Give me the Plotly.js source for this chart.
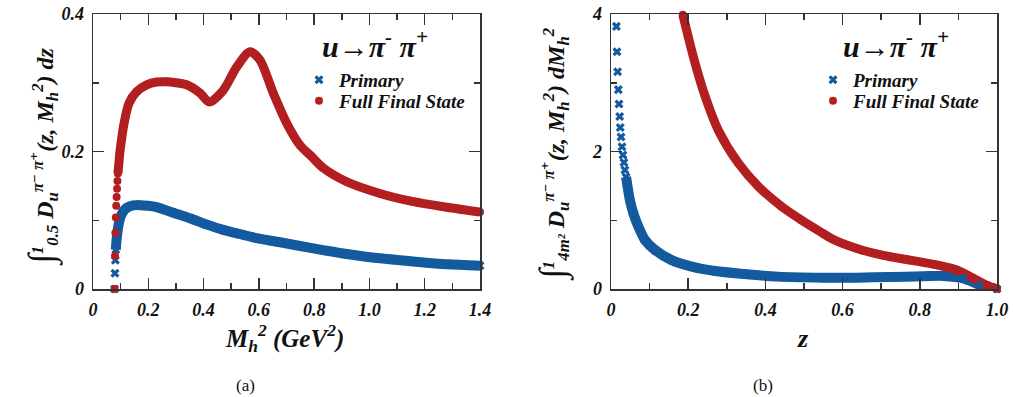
<!DOCTYPE html>
<html><head><meta charset="utf-8">
<script src="https://cdn.plot.ly/plotly-3.0.1.min.js"></script>
<style>html,body{margin:0;padding:0;background:#fff}#chart{width:1015px;height:397px}</style>
</head><body><div id="chart"></div>
<script>
// ---- Panel (a): integral over z in [0.5,1] vs M_h^2 ----
const mh2Full = [0.078, 0.0795, 0.081, 0.0825, 0.084, 0.0855, 0.087, 0.0885, 0.090, 0.093, 0.097, 0.103, 0.112, 0.130, 0.158, 0.194, 0.230, 0.267, 0.300, 0.339, 0.387, 0.421, 0.471, 0.520, 0.568, 0.604, 0.652, 0.701, 0.749, 0.790, 0.833, 0.918, 1.038, 1.159, 1.280, 1.400];
const fullA   = [0, 0.048, 0.082, 0.104, 0.121, 0.134, 0.146, 0.157, 0.168, 0.180, 0.198, 0.217, 0.240, 0.270, 0.287, 0.297, 0.301, 0.3015, 0.300, 0.297, 0.285, 0.272, 0.289, 0.323, 0.345, 0.333, 0.285, 0.241, 0.209, 0.193, 0.176, 0.156, 0.139, 0.127, 0.119, 0.112];
const mh2Prim = [0.078, 0.0795, 0.081, 0.0825, 0.084, 0.087, 0.092, 0.098, 0.108, 0.122, 0.145, 0.170, 0.200, 0.230, 0.290, 0.351, 0.410, 0.471, 0.530, 0.592, 0.677, 0.797, 0.918, 1.038, 1.159, 1.280, 1.400];
const primA   = [0, 0.023, 0.042, 0.057, 0.066, 0.078, 0.092, 0.103, 0.112, 0.118, 0.1215, 0.122, 0.121, 0.119, 0.111, 0.103, 0.094, 0.086, 0.080, 0.074, 0.068, 0.059, 0.051, 0.0446, 0.040, 0.036, 0.034];

// ---- Panel (b): integral over M_h^2 vs z ----
const zFull  = [0.186, 0.200, 0.218, 0.244, 0.278, 0.330, 0.382, 0.442, 0.494, 0.540, 0.576, 0.637, 0.705, 0.775, 0.844, 0.896, 0.939, 0.973, 1.000];
const fullB  = [3.99, 3.67, 3.28, 2.80, 2.31, 1.83, 1.49, 1.20, 1.00, 0.84, 0.72, 0.59, 0.49, 0.42, 0.35, 0.276, 0.155, 0.058, 0.0];
const zPrim  = [0.014, 0.0155, 0.017, 0.019, 0.0207, 0.0225, 0.024, 0.026, 0.0285, 0.031, 0.0335, 0.036, 0.039, 0.0415, 0.049, 0.058, 0.071, 0.088, 0.114, 0.157, 0.209, 0.269, 0.347, 0.433, 0.550, 0.637, 0.723, 0.809, 0.861, 0.913, 0.956, 1.000];
const primB  = [3.82, 3.45, 3.16, 2.90, 2.69, 2.51, 2.35, 2.21, 2.07, 1.95, 1.84, 1.73, 1.63, 1.54, 1.29, 1.10, 0.906, 0.713, 0.567, 0.42, 0.325, 0.262, 0.218, 0.18, 0.165, 0.165, 0.175, 0.185, 0.19, 0.155, 0.058, 0.0];

// ---- tick labels ----
const xTickA = [0, 0.2, 0.4, 0.6, 0.8, 1.0, 1.2, 1.4];
const xTickAText = ["0", "0.2", "0.4", "0.6", "0.8", "1.0", "1.2", "1.4"];
const xMinorA = [0.1, 0.3, 0.5, 0.7, 0.9, 1.1, 1.3];
const yTickA = [0, 0.2, 0.4];
const yTickAText = ["0", "0.2", "0.4"];
const yMinorA = [0.1, 0.3];
const xTickB = [0, 0.2, 0.4, 0.6, 0.8, 1.0];
const xTickBText = ["0", "0.2", "0.4", "0.6", "0.8", "1.0"];
const xMinorB = [0.1, 0.3, 0.5, 0.7, 0.9];
const yTickB = [0, 2, 4];
const yTickBText = ["0", "2", "4"];
const yMinorB = [1, 3];

const names = ["Primary", "Full Final State"];
const RED = "#b31e20", BLUE = "#135a9e";
const FONT = "Liberation Serif, DejaVu Serif, serif";

// where the markers merge into a continuous band
const bandFullA = 8, bandPrimA = 3, bandFullB = 0, bandPrimB = 12;

function band(x, y, start, color, w, xa, ya) {
  return {x: x.slice(start), y: y.slice(start), xaxis: xa, yaxis: ya, mode: "lines",
    line: {color: color, width: w, shape: "spline", smoothing: 0.8},
    showlegend: false, hoverinfo: "skip", cliponaxis: false};
}
function pts(x, y, name, color, sym, size, xa, ya, leg) {
  return {x: x, y: y, xaxis: xa, yaxis: ya, mode: "markers", name: name, legend: leg,
    marker: {color: color, symbol: sym, size: size, line: {width: 0}}, cliponaxis: false};
}

const traces = [
  band(mh2Prim, primA, bandPrimA, BLUE, 10, "x", "y"),
  band(mh2Full, fullA, bandFullA, RED, 9, "x", "y"),
  band(zPrim, primB, bandPrimB, BLUE, 10, "x2", "y2"),
  band(zFull, fullB, bandFullB, RED, 9, "x2", "y2"),
  pts(mh2Prim, primA, names[0], BLUE, "x", 8, "x", "y", "legend"),
  pts(mh2Full, fullA, names[1], RED, "circle", 8, "x", "y", "legend2"),
  pts(zPrim, primB, names[0], BLUE, "x", 8, "x2", "y2", "legend3"),
  pts(zFull, fullB, names[1], RED, "circle", 8, "x2", "y2", "legend4")
];

const tickFont = {family: FONT, size: 18, weight: "bold", style: "italic", color: "#111"};
function axis(dom, rng, tv, tt, mv, anchor) {
  return {domain: dom, range: rng, anchor: anchor, tickmode: "array", tickvals: tv, ticktext: tt,
    ticks: "inside", ticklen: 11, tickwidth: 1.5, tickcolor: "#333",
    minor: {tickmode: "array", tickvals: mv, ticks: "inside", ticklen: 6, tickwidth: 1.5, tickcolor: "#333"},
    showline: true, linecolor: "#333", linewidth: 1.5, mirror: "ticks",
    showgrid: false, zeroline: false, tickfont: tickFont, ticklabelstandoff: 4, fixedrange: true};
}
const W = 1015, T = 14, PH = 275;
const px = v => v / W;
const py = v => (T + PH - v) / PH;

const bi = {family: FONT, weight: "bold", style: "italic", color: "#111"};
function leg(x, y) {
  return {x: px(x), y: py(y), xanchor: "left", yanchor: "middle", bgcolor: "rgba(0,0,0,0)",
    borderwidth: 0, font: Object.assign({}, bi, {size: 19}), itemwidth: 30};
}
function ann(text, x, y, size, extra) {
  return Object.assign({text: text, xref: "paper", yref: "paper", x: px(x), y: py(y),
    xanchor: "center", yanchor: "middle", showarrow: false,
    font: Object.assign({}, bi, {size: size})}, extra || {});
}

const layout = {
  width: 1015, height: 397, margin: {l: 0, r: 0, t: T, b: 397 - T - PH},
  paper_bgcolor: "#fff", plot_bgcolor: "#fff", showlegend: true,
  font: {family: FONT},
  xaxis: axis([px(93), px(480)], [0, 1.4], xTickA, xTickAText, xMinorA, "y"),
  yaxis: axis([0, 1], [0, 0.4], yTickA, yTickAText, yMinorA, "x"),
  xaxis2: axis([px(611), px(997)], [0, 1.0], xTickB, xTickBText, xMinorB, "y2"),
  yaxis2: axis([0, 1], [0, 4], yTickB, yTickBText, yMinorB, "x2"),
  legend: leg(299, 80),
  legend2: leg(299, 101),
  legend3: leg(813, 80),
  legend4: leg(813, 101),
  annotations: [
    ann("u→π<sup>-</sup> π<sup>+</sup>", 375, 44, 30),
    ann("u→π<sup>-</sup> π<sup>+</sup>", 896, 44, 30),
    ann("M<sub>h</sub><sup>2</sup> (GeV<sup>2</sup>)", 284, 338, 25),
    ann("z", 803, 338, 26),
    ann("<span style='font-size:36px'>∫</span><sup>1</sup><sub>0.5</sub> D<sub>u</sub><sup>π⁻ π⁺</sup>(z, M<sub>h</sub><sup>2</sup>) dz", 42, 157, 24, {textangle: -90}),
    ann("<span style='font-size:36px'>∫</span><sup>1</sup><sub>4m²</sub> D<sub>u</sub><sup>π⁻ π⁺</sup>(z, M<sub>h</sub><sup>2</sup>) dM<sub>h</sub><sup>2</sup>", 553, 155, 24, {textangle: -90}),
    ann("(a)", 245, 385, 17, {font: {family: FONT, size: 17, color: "#111"}}),
    ann("(b)", 763, 385, 17, {font: {family: FONT, size: 17, color: "#111"}})
  ]
};

Plotly.newPlot("chart", traces, layout, {staticPlot: true, displayModeBar: false});
</script>
</body></html>
